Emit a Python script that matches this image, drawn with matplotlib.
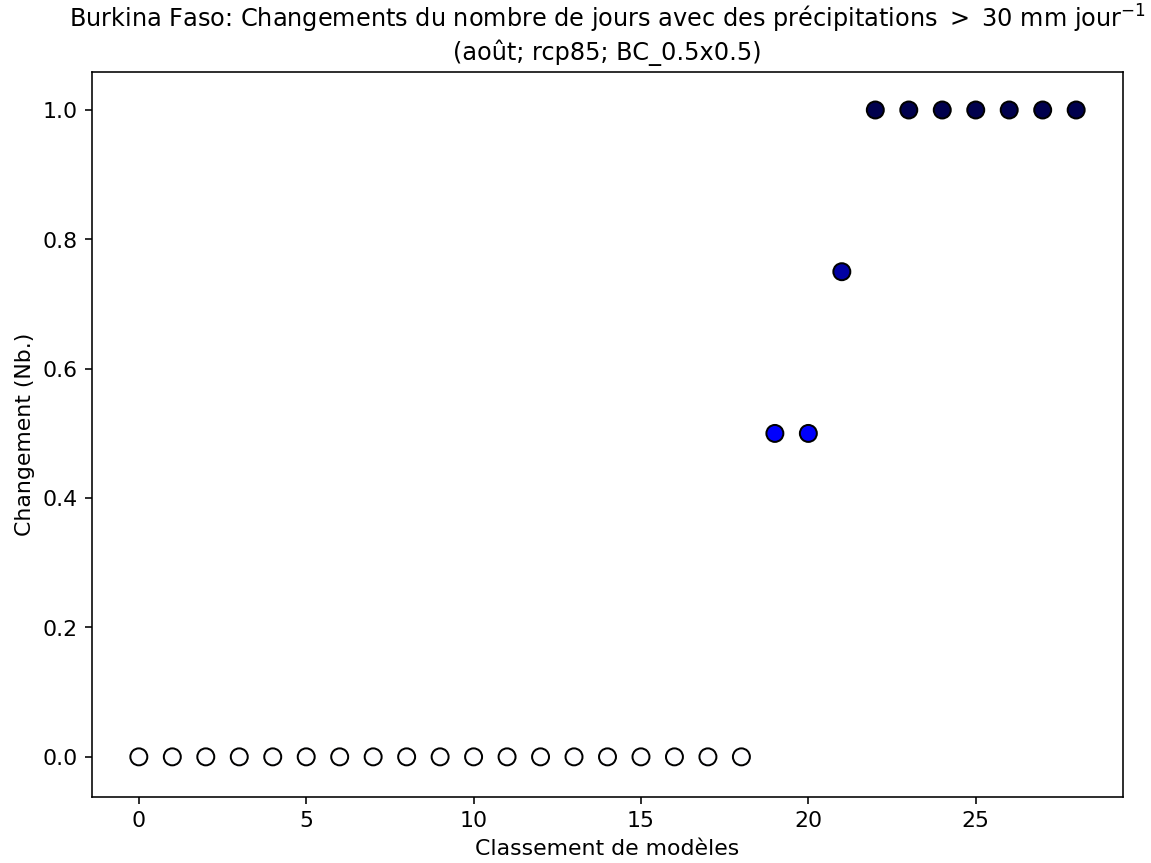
import numpy as np
import matplotlib
matplotlib.use("Agg")
import matplotlib.pyplot as plt

# model ranks and change values
ranks = list(range(29))
changes = [0.0] * 19 + [0.5, 0.5, 0.75] + [1.0] * 7

title = ("Burkina Faso: Changements du nombre de jours avec des précipitations $>$ 30 mm jour$^{-1}$\n"
         "(août; rcp85; BC_0.5x0.5)")

plt.rcParams["font.size"] = 11

fig = plt.figure(figsize=(8, 6), dpi=143.875)
ax = fig.add_axes([0.0799, 0.0765, 0.8958, 0.840])

ax.scatter(ranks, changes, c=changes, cmap="seismic_r", vmin=-1, vmax=1,
           s=72, edgecolors="black", linewidths=1.0, zorder=3)

ax.set_xlim(-1.4, 29.4)
ax.set_ylim(-0.062, 1.059)
ax.set_xticks([0, 5, 10, 15, 20, 25])
ax.set_yticks([0.0, 0.2, 0.4, 0.6, 0.8, 1.0])
ax.set_xlabel("Classement de modèles")
ax.set_ylabel("Changement (Nb.)")
ax.set_title(title, fontsize=12)

fig.savefig("out.png", dpi=143.875)
